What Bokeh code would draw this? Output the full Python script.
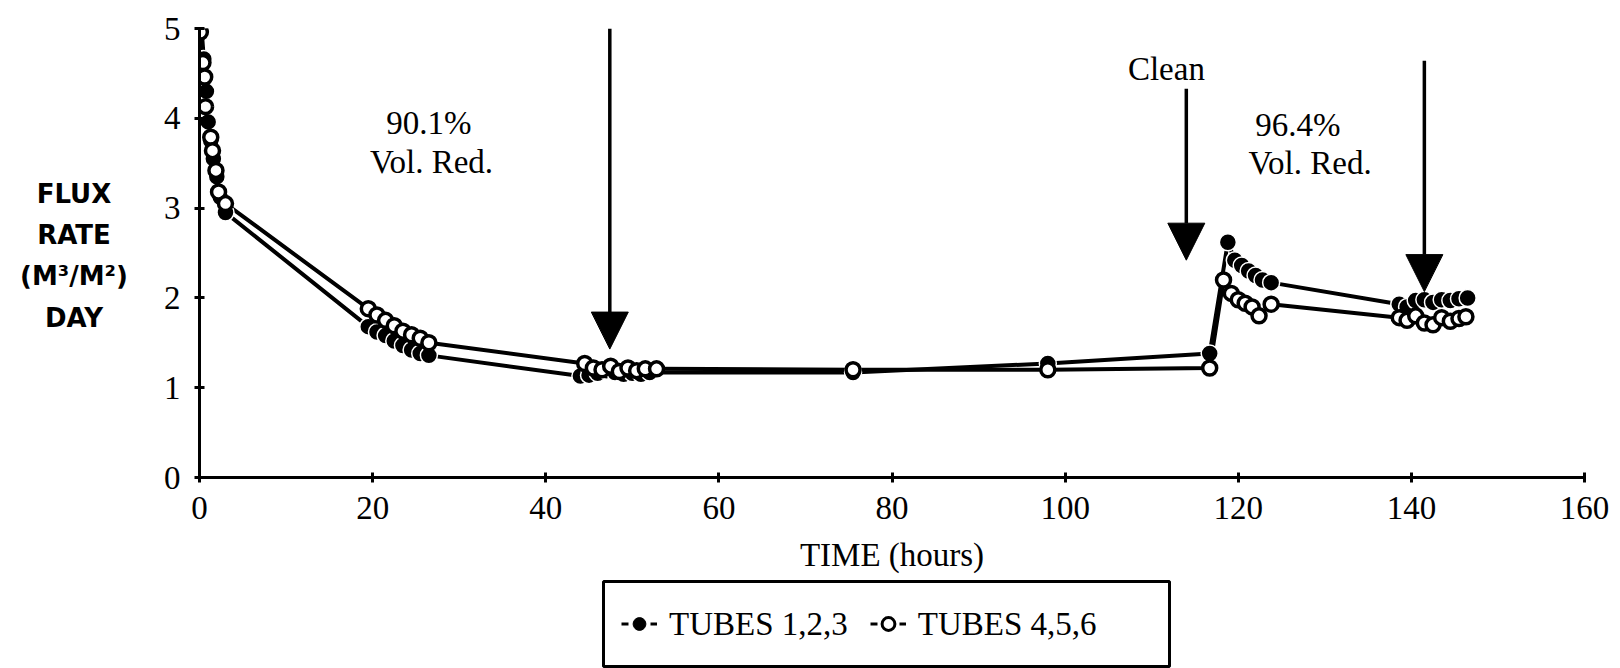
from bokeh.plotting import figure
from bokeh.models import (ColumnDataSource, Arrow, NormalHead, Legend, LegendItem,
                          FixedTicker, Label, Spacer)
from bokeh.layouts import row, column
from bokeh.core.properties import value
from bokeh.embed import file_html
from bokeh.resources import INLINE

# ---------------- data ----------------
tubes123_x = [0.2, 0.5, 0.8, 1.0, 1.3, 1.6, 2.0, 2.4, 3.0,
              19.5, 20.5, 21.5, 22.5, 23.5, 24.5, 25.5, 26.5,
              44.0, 45.0, 46.0, 47.0, 48.0, 49.0, 50.0, 51.0, 52.0,
              75.5, 98.0, 116.7,
              118.8, 119.6, 120.4, 121.2, 122.0, 122.8, 123.8,
              138.6, 139.5, 140.5, 141.5, 142.5, 143.5, 144.5, 145.5, 146.5]
tubes123_y = [5.05, 4.66, 4.30, 3.96, 3.75, 3.55, 3.35, 3.12, 2.95,
              1.68, 1.62, 1.58, 1.52, 1.47, 1.42, 1.38, 1.36,
              1.13, 1.14, 1.16, 1.19, 1.17, 1.15, 1.16, 1.15, 1.17,
              1.17, 1.27, 1.38,
              2.62, 2.42, 2.36, 2.30, 2.25, 2.20, 2.17,
              1.93, 1.90, 1.97, 1.98, 1.95, 1.98, 1.97, 1.99, 2.00]

tubes456_x = [0.1, 0.4, 0.6, 0.7, 1.3, 1.5, 1.9, 2.2, 3.0,
              19.5, 20.5, 21.5, 22.5, 23.5, 24.5, 25.5, 26.5,
              44.5, 45.5, 46.5, 47.5, 48.5, 49.5, 50.5, 51.5, 52.8,
              75.5, 98.0, 116.7,
              118.3, 119.2, 120.0, 120.8, 121.6, 122.4, 123.8,
              138.6, 139.5, 140.5, 141.5, 142.5, 143.5, 144.5, 145.5, 146.3]
tubes456_y = [4.96, 4.62, 4.46, 4.13, 3.79, 3.64, 3.42, 3.18, 3.05,
              1.88, 1.81, 1.75, 1.69, 1.63, 1.59, 1.55, 1.50,
              1.27, 1.22, 1.20, 1.24, 1.18, 1.22, 1.19, 1.21, 1.21,
              1.20, 1.20, 1.22,
              2.20, 2.05, 1.98, 1.94, 1.90, 1.80, 1.93,
              1.78, 1.75, 1.80, 1.72, 1.70, 1.78, 1.74, 1.77, 1.79]

series_labels = ["TUBES 1,2,3", "TUBES 4,5,6"]
x_ticks = [0, 20, 40, 60, 80, 100, 120, 140, 160]
y_ticks = [0, 1, 2, 3, 4, 5]
y_title = "FLUX\nRATE\n(M\u00b3/M\u00b2)\nDAY"
x_title = "TIME (hours)"

arrow_x = [47.4, 114.0, 141.5]
arrow_y_start = [5.0, 4.33, 4.64]
arrow_y_end = [1.43, 2.42, 2.07]

note_text = ["90.1%", "Vol. Red.", "Clean", "96.4%", "Vol. Red."]
note_x = [26.5, 26.8, 111.7, 126.9, 128.3]
note_y = [3.95, 3.51, 4.55, 3.92, 3.50]

SERIF = "Liberation Serif"
SANS = "DejaVu Sans"
FS = "33px"

# ---------------- main figure ----------------
p = figure(frame_width=1385, frame_height=449, x_range=(0, 160), y_range=(0, 5),
           output_backend="svg", toolbar_location=None,
           min_border_left=49, min_border_right=36, min_border_top=28,
           min_border_bottom=102)
p.outline_line_color = None
p.grid.visible = False
p.background_fill_color = "white"
p.border_fill_color = "white"

for ax in (p.xaxis[0], p.yaxis[0]):
    ax.axis_line_width = 3
    ax.axis_line_color = "black"
    ax.major_tick_line_width = 3
    ax.major_tick_in = 5
    ax.major_tick_out = 5
    ax.minor_tick_line_color = None
    ax.major_label_text_font = SERIF
    ax.major_label_text_font_size = FS
    ax.major_label_text_color = "black"

p.xaxis.ticker = FixedTicker(ticks=x_ticks)
p.yaxis.ticker = FixedTicker(ticks=y_ticks)
p.xaxis.major_label_standoff = 14
p.yaxis.major_label_standoff = 14

p.xaxis.axis_label = x_title
p.xaxis.axis_label_text_font = SERIF
p.xaxis.axis_label_text_font_size = FS
p.xaxis.axis_label_text_font_style = "normal"
p.xaxis.axis_label_text_color = "black"
p.xaxis.axis_label_standoff = 15

src1 = ColumnDataSource(dict(x=tubes123_x, y=tubes123_y))
src2 = ColumnDataSource(dict(x=tubes456_x, y=tubes456_y))

p.line("x", "y", source=src1, line_color="black", line_width=4)
p.line("x", "y", source=src2, line_color="black", line_width=4)
p.scatter("x", "y", source=src1, marker="circle", size=17,
          fill_color="black", line_color="white", line_width=1.5)
p.scatter("x", "y", source=src2, marker="circle", size=14,
          fill_color="white", line_color="black", line_width=3.5)

for xs, ys, ye in zip(arrow_x, arrow_y_start, arrow_y_end):
    p.add_layout(Arrow(end=NormalHead(size=37, fill_color="black", line_color="black"),
                       x_start=xs, y_start=ys, x_end=xs, y_end=ye,
                       line_color="black", line_width=3.5))

notes = ColumnDataSource(dict(x=note_x, y=note_y, t=note_text))
p.text("x", "y", text="t", source=notes, text_font=value(SERIF),
       text_font_size=FS, text_align="center", text_baseline="middle",
       text_color="black")

# ---------------- y title panel (left) ----------------
yt = figure(frame_width=150, frame_height=449, x_range=(0, 1), y_range=p.y_range,
            output_backend="svg", toolbar_location=None,
            x_axis_type=None, y_axis_type=None,
            min_border_left=0, min_border_right=0, min_border_top=28,
            min_border_bottom=102)
yt.outline_line_color = None
yt.grid.visible = False
yt.add_layout(Label(x=0.49, y=2.47, text=y_title, text_font=SANS,
                    text_font_size="26px", text_font_style="bold",
                    text_align="center", text_baseline="middle",
                    text_line_height=1.38, text_color="black"))

# ---------------- legend box (below) ----------------
# the legend figure shows the same sources, with its ranges kept away from the data
lf = figure(frame_width=566, frame_height=85, x_range=(-20, -19), y_range=(-20, -19),
            output_backend="svg", toolbar_location=None,
            x_axis_type=None, y_axis_type=None, min_border=2)
lf.outline_line_color = "black"
lf.outline_line_width = 3
lf.grid.visible = False
lk1 = lf.line("x", "y", source=src1, line_color="black", line_width=3, line_dash="7 22")
mk1 = lf.scatter("x", "y", source=src1, marker="circle", fill_color="black",
                 line_color="black", line_width=1)
lk2 = lf.line("x", "y", source=src2, line_color="black", line_width=3, line_dash="7 22")
mk2 = lf.scatter("x", "y", source=src2, marker="circle", fill_color="white",
                 line_color="black", line_width=3)
legend = Legend(items=[LegendItem(label=series_labels[0], renderers=[lk1, mk1]),
                       LegendItem(label=series_labels[1], renderers=[lk2, mk2])],
                orientation="horizontal", location="center_left")
legend.label_text_font = SERIF
legend.label_text_font_size = FS
legend.label_text_color = "black"
legend.border_line_color = None
legend.background_fill_alpha = 0
legend.padding = 0
legend.margin = 18
legend.spacing = 22
legend.label_standoff = 12
legend.glyph_width = 36
legend.glyph_height = 32
lf.add_layout(legend, "center")

layout = column(row(yt, p), row(Spacer(width=601, height=89), lf))

open("out.html", "w").write(file_html(layout, INLINE))
